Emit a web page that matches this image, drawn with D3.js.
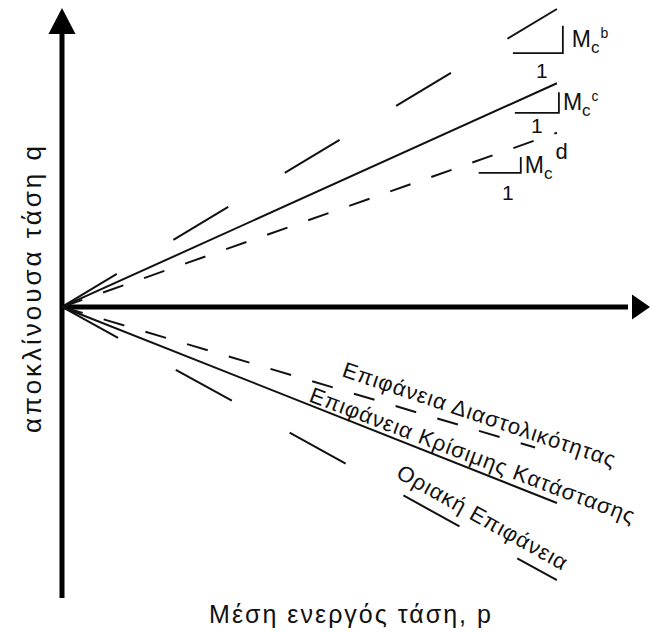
<!DOCTYPE html>
<html>
<head>
<meta charset="utf-8">
<script src="https://cdn.jsdelivr.net/npm/d3@7"></script>
<style>
  body { margin: 0; background: #fff; }
  text { font-family: "Liberation Sans", Arial, sans-serif; fill: #111; }
</style>
</head>
<body>
<div id="chart"></div>
<script>
// line names and end points (p, q) - all lines start at the origin
var lineNames = ["Mc_b", "Mc_c", "Mc_d", "Οριακή Επιφάνεια", "Επιφάνεια Κρίσιμης Κατάστασης", "Επιφάνεια Διαστολικότητας"];
var lineEndP = [1.0, 1.0, 1.0, 1.0, 1.0, 0.956];
var lineEndQ = [0.602, 0.452, 0.352, -0.552, -0.396, -0.284];

// slope triangles: corner p, top q, bottom q, left p
var triNames = ["b", "c", "d"];
var triCornerP = [1.012, 1.004, 0.927];
var triTopQ = [0.568, 0.434, 0.303];
var triBottomQ = [0.513, 0.392, 0.271];
var triLeftP = [0.911, 0.915, 0.842];

// axis extents
var pMax = 1.18;
var qMin = -0.588;
var qMax = 0.604;

var xLabel = "Μέση ενεργός τάση, p";
var yLabel = "αποκλίνουσα τάση q";

var svgWidth = 651;
var svgHeight = 633;

var svg = d3.select("#chart")
  .append("svg")
  .attr("width", svgWidth)
  .attr("height", svgHeight);

// scales - origin sits at (62, 307)
var xScale = d3.scaleLinear()
  .domain([0, pMax])
  .range([62, 646]);

var yScale = d3.scaleLinear()
  .domain([qMin, qMax])
  .range([598, 8]);

// axes
svg.append("line")
  .attr("x1", xScale(0))
  .attr("y1", yScale(qMin))
  .attr("x2", xScale(0))
  .attr("y2", yScale(qMax) + 20)
  .attr("stroke", "#000")
  .attr("stroke-width", 5);

svg.append("line")
  .attr("x1", xScale(0))
  .attr("y1", yScale(0))
  .attr("x2", xScale(pMax) - 18)
  .attr("y2", yScale(0))
  .attr("stroke", "#000")
  .attr("stroke-width", 5);

// arrow heads
var ox = xScale(0), oy = yScale(0);
var yTip = yScale(qMax), xTip = xScale(pMax) + 4;
svg.append("path")
  .attr("d", `M${ox},${yTip} L${ox + 13.5},${yTip + 26} L${ox - 13.5},${yTip + 26} Z`)
  .attr("fill", "#000");

svg.append("path")
  .attr("d", `M${xTip},${oy} L${xTip - 18},${oy - 12.5} L${xTip - 18},${oy + 12.5} Z`)
  .attr("fill", "#000");

// the six lines
var lineData = lineNames.map(function(name, i) {
  return { name: name, p: lineEndP[i], q: lineEndQ[i] };
});

var dashes = ["64,66", null, "21.5,22", "64,66", null, "21.5,22"];

svg.selectAll(".surface")
  .data(lineData)
  .enter()
  .append("line")
  .attr("class", "surface")
  .attr("x1", xScale(0))
  .attr("y1", yScale(0))
  .attr("x2", d => xScale(d.p))
  .attr("y2", d => yScale(d.q))
  .attr("stroke", "#111")
  .attr("stroke-width", 2)
  .attr("stroke-dasharray", (d, i) => dashes[i]);

// slope triangles (only the vertical and bottom legs)
var triData = triNames.map(function(name, i) {
  return { name: name, cp: triCornerP[i], tq: triTopQ[i], bq: triBottomQ[i], lp: triLeftP[i] };
});

svg.selectAll(".tri")
  .data(triData)
  .enter()
  .append("path")
  .attr("class", "tri")
  .attr("d", d => `M${xScale(d.cp)},${yScale(d.tq)} L${xScale(d.cp)},${yScale(d.bq)} L${xScale(d.lp)},${yScale(d.bq)}`)
  .attr("fill", "none")
  .attr("stroke", "#111")
  .attr("stroke-width", 1.8);

// label nudges per triangle
var oneDx = [4, 0, 8];
var oneDy = [25, 20, 27];
var mDx = [9, 4, 4];
var mDy = [-6, -3, 0];

// "1" under each triangle
svg.selectAll(".one")
  .data(triData)
  .enter()
  .append("text")
  .attr("class", "one")
  .attr("x", (d, i) => (xScale(d.cp) + xScale(d.lp)) / 2 + oneDx[i])
  .attr("y", (d, i) => yScale(d.bq) + oneDy[i])
  .style("text-anchor", "middle")
  .style("font-size", "21px")
  .text("1");

// M_c labels
var mLabels = svg.selectAll(".mlab")
  .data(triData)
  .enter()
  .append("text")
  .attr("class", "mlab")
  .attr("x", (d, i) => xScale(d.cp) + mDx[i])
  .attr("y", (d, i) => yScale(d.bq) + mDy[i])
  .style("font-size", "23px");

mLabels.append("tspan").text("M");
mLabels.append("tspan")
  .attr("dy", 6)
  .style("font-size", "17px")
  .text("c");
mLabels.append("tspan")
  .attr("dy", d => d.name === "d" ? -20 : -15)
  .attr("dx", d => d.name === "d" ? 3 : 1)
  .style("font-size", d => d.name === "d" ? "22px" : "14px")
  .text(d => d.name);

// labels along the lower surfaces
var surfLabels = [
  { text: "Επιφάνεια Διαστολικότητας", x: 341, y: 376, angle: 18.6 },
  { text: "Επιφάνεια Κρίσιμης Κατάστασης", x: 308, y: 401, angle: 20.8 },
  { text: "Οριακή Επιφάνεια", x: 395, y: 477, angle: 29.3 }
];

svg.selectAll(".surfLabel")
  .data(surfLabels)
  .enter()
  .append("text")
  .attr("class", "surfLabel")
  .attr("transform", d => `translate(${d.x}, ${d.y}) rotate(${d.angle})`)
  .style("font-size", "22px")
  .style("letter-spacing", "1px")
  .text(d => d.text);

// axis titles
svg.append("text")
  .attr("transform", "translate(41, 288) rotate(-90)")
  .style("text-anchor", "middle")
  .style("font-size", "26px")
  .style("letter-spacing", "3px")
  .text(yLabel);

svg.append("text")
  .attr("x", 351)
  .attr("y", 623)
  .style("text-anchor", "middle")
  .style("font-size", "25px")
  .style("letter-spacing", "2px")
  .text(xLabel);
</script>
</body>
</html>
